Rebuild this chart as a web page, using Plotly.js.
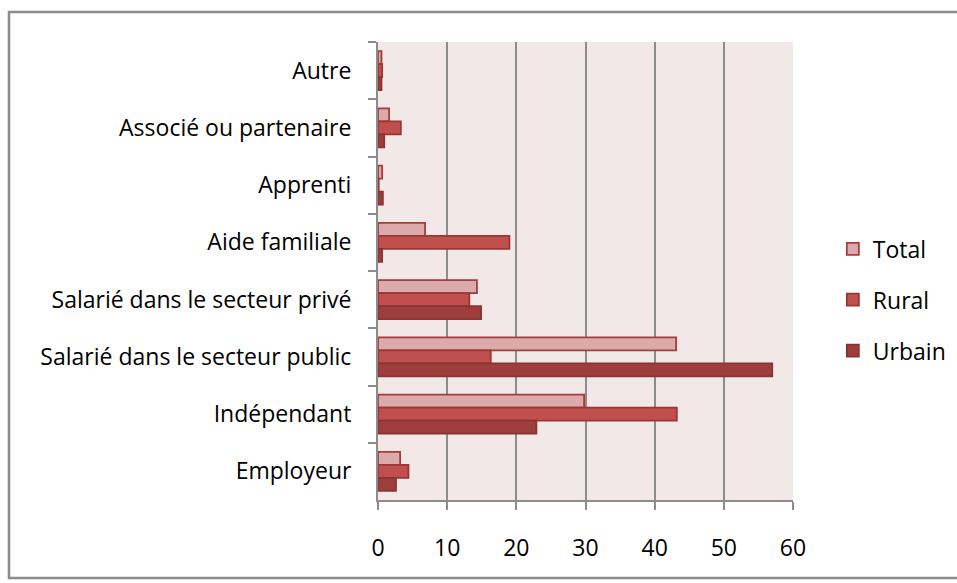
<!DOCTYPE html>
<html>
<head>
<meta charset="utf-8">
<script src="https://cdn.plot.ly/plotly-3.0.1.min.js"></script>
<style>
html,body{margin:0;padding:0;background:#fff;}
#chart{width:957px;height:583px;}
</style>
</head>
<body>
<div id="chart"></div>
<script>
// Categories listed top to bottom
const categories = ["Autre", "Associé ou partenaire", "Apprenti", "Aide familiale", "Salarié dans le secteur privé", "Salarié dans le secteur public", "Indépendant", "Employeur"];
const totalValues  = [0.5, 1.6, 0.6, 6.8, 14.3, 43.1, 29.8, 3.2];
const ruralValues  = [0.6, 3.3, 0.1, 19.0, 13.2, 16.3, 43.2, 4.4];
const urbainValues = [0.5, 0.9, 0.7, 0.6, 14.9, 57.0, 22.9, 2.6];
const xTicks = [0, 10, 20, 30, 40, 50, 60];

const FONT = "'Open Sans', 'Noto Sans', sans-serif";
const FS = 23;

function bar(name, vals, fill, line, grp) {
  return {
    type: "bar", orientation: "h", name: name, x: vals, y: categories,
    legendgroup: grp,
    marker: {color: fill, line: {color: line, width: 1.8}},
    hoverinfo: "x+y"
  };
}

const data = [
  bar("Total", totalValues, "#DBAAAB", "#A33E3C", "a"),
  bar("Rural", ruralValues, "#C0504D", "#9B3634", "b"),
  bar("Urbain", urbainValues, "#9E3E3C", "#8A3432", "c")
];

const layout = {
  width: 957, height: 583,
  margin: {l: 378, r: 164, t: 42, b: 83, autoexpand: false},
  paper_bgcolor: "#ffffff",
  plot_bgcolor: "#F2E8E8",
  barmode: "group",
  bargap: 0.32,
  bargroupgap: 0,
  font: {family: FONT, size: FS, color: "#000"},
  showlegend: true,
  legend: {
    traceorder: "grouped",
    x: 1.096, xanchor: "left",
    y: 0.437, yanchor: "middle",
    font: {family: FONT, size: FS, color: "#000"},
    tracegroupgap: 18,
    bgcolor: "rgba(0,0,0,0)"
  },
  xaxis: {
    range: [0, 60],
    tickvals: xTicks,
    ticktext: xTicks.map(String),
    showgrid: true, gridcolor: "#8C8C8C", gridwidth: 2,
    zeroline: false,
    showline: true, linecolor: "#8C8C8C", linewidth: 2,
    ticks: "outside", ticklen: 8, tickcolor: "#8C8C8C", tickwidth: 2,
    ticklabelstandoff: 18,
    tickfont: {family: FONT, size: FS, color: "#000"},
    fixedrange: true
  },
  yaxis: {
    type: "category",
    autorange: "reversed",
    showgrid: false,
    zeroline: false,
    showline: true, linecolor: "#8C8C8C", linewidth: 2,
    ticks: "outside", ticklen: 8, tickcolor: "#8C8C8C", tickwidth: 2,
    tickson: "boundaries",
    ticklabelstandoff: 20,
    tickfont: {family: FONT, size: FS, color: "#000"},
    fixedrange: true
  },
  shapes: [
    {type: "rect", xref: "paper", yref: "paper",
     x0: (9 - 378) / 415, x1: 1.6, y0: (500 - 578) / 458, y1: (500 - 12) / 458,
     line: {color: "#8C8C8C", width: 2.5}, fillcolor: "rgba(0,0,0,0)", layer: "below"}
  ]
};

Plotly.newPlot("chart", data, layout, {displayModeBar: false, staticPlot: true});
</script>
</body>
</html>
